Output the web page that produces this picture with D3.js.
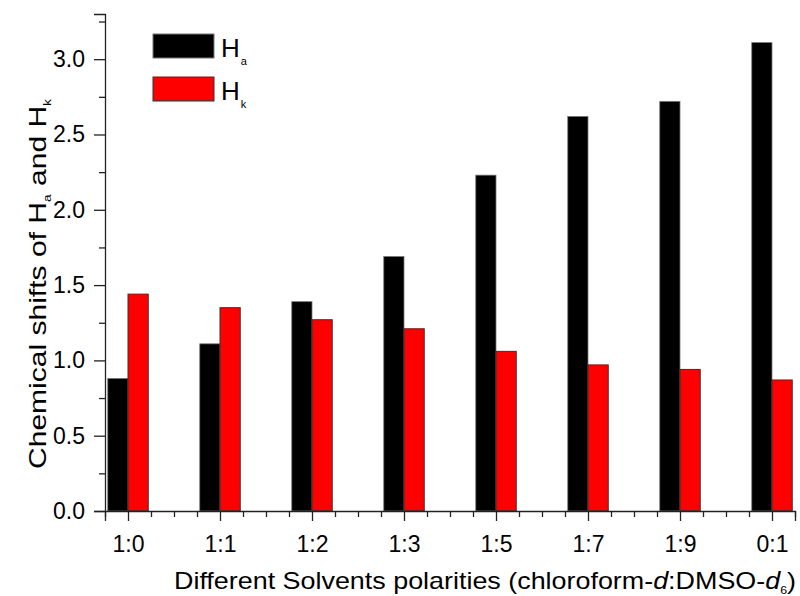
<!DOCTYPE html>
<html>
<head>
<meta charset="utf-8">
<script src="https://cdn.jsdelivr.net/npm/d3@7"></script>
<style>
  html, body { margin: 0; padding: 0; background: #fff; }
  svg { display: block; font-family: "Liberation Sans", Arial, sans-serif; }
</style>
</head>
<body>
<svg id="chart" width="800" height="596"></svg>
<script>
// Solvent ratios (chloroform-d : DMSO-d6)
const categories = ["1:0", "1:1", "1:2", "1:3", "1:5", "1:7", "1:9", "0:1"];
// Chemical shift of H_a and H_k for each ratio
const shiftHa = [0.88, 1.11, 1.39, 1.69, 2.23, 2.62, 2.72, 3.11];
const shiftHk = [1.44, 1.35, 1.27, 1.21, 1.06, 0.97, 0.94, 0.87];
const yTicks = [0, 0.5, 1.0, 1.5, 2.0, 2.5, 3.0];
const yMinorTicks = [0.25, 0.75, 1.25, 1.75, 2.25, 2.75, 3.25];

const svg = d3.select("#chart");
const plotLeft = 105, plotRight = 795, plotTop = 14, plotBottom = 511;

const x = d3.scaleLinear().domain([0.75, categories.length + 0.25]).range([plotLeft, plotRight]);
const y = d3.scaleLinear().domain([0, 3.3]).range([plotBottom, plotTop]);
const barW = 0.22;

const idx = categories.map((c, i) => i + 1);
const xMinor = [];
for (let v = 0.75; v <= categories.length + 0.25 + 1e-9; v += 0.25) {
  if (Math.abs(v - Math.round(v)) > 1e-9) xMinor.push(v);
}

// Bars
const g = svg.append("g");
g.selectAll("rect.ha").data(shiftHa).join("rect")
  .attr("class", "ha")
  .attr("x", (d, i) => x(i + 1 - barW))
  .attr("width", (d, i) => x(i + 1) - x(i + 1 - barW))
  .attr("y", d => y(d))
  .attr("height", d => y(0) - y(d))
  .attr("fill", "#000")
  .attr("stroke", "#777")
  .attr("stroke-width", 0.8);

g.selectAll("rect.hk").data(shiftHk).join("rect")
  .attr("class", "hk")
  .attr("x", (d, i) => x(i + 1))
  .attr("width", (d, i) => x(i + 1 + barW) - x(i + 1))
  .attr("y", d => y(d))
  .attr("height", d => y(0) - y(d))
  .attr("fill", "#ff0000")
  .attr("stroke", "#333")
  .attr("stroke-width", 1);

// Axes
function styleAxis(sel) {
  sel.select(".domain").attr("stroke", "#222").attr("stroke-width", 1.3);
  sel.selectAll(".tick line").attr("stroke", "#222").attr("stroke-width", 1.3);
  sel.selectAll(".tick text").attr("fill", "#000").style("font-size", "23px");
}

const yAxis = svg.append("g").attr("transform", `translate(${plotLeft},0)`)
  .call(d3.axisLeft(y).tickValues(yTicks).tickFormat(d3.format(".1f")).tickSizeOuter(0).tickSize(11).tickPadding(9));
styleAxis(yAxis);
const yAxisMinor = svg.append("g").attr("transform", `translate(${plotLeft},0)`)
  .call(d3.axisLeft(y).tickValues(yMinorTicks).tickFormat("").tickSizeOuter(0).tickSize(6));
styleAxis(yAxisMinor);
yAxisMinor.select(".domain").remove();

const xAxis = svg.append("g").attr("transform", `translate(0,${plotBottom})`)
  .call(d3.axisBottom(x).tickValues(idx).tickFormat((d, i) => categories[i]).tickSizeOuter(0).tickSize(10).tickPadding(15));
styleAxis(xAxis);
const xAxisMinor = svg.append("g").attr("transform", `translate(0,${plotBottom})`)
  .call(d3.axisBottom(x).tickValues(xMinor).tickFormat("").tickSizeOuter(0).tickSize(6));
styleAxis(xAxisMinor);
xAxisMinor.select(".domain").remove();

// Axis titles
const xt = svg.append("text")
  .attr("x", 485).attr("y", 589)
  .attr("text-anchor", "middle")
  .attr("textLength", 622).attr("lengthAdjust", "spacingAndGlyphs")
  .style("font-size", "24px").attr("fill", "#000");
xt.append("tspan").text("Different Solvents polarities (chloroform-");
xt.append("tspan").style("font-style", "italic").text("d");
xt.append("tspan").text(":DMSO-");
xt.append("tspan").style("font-style", "italic").text("d");
xt.append("tspan").attr("dy", 5).style("font-size", "11px").text("6");
xt.append("tspan").attr("dy", -5).text(")");

const yt = svg.append("text")
  .attr("transform", `translate(46,${284}) rotate(-90)`)
  .attr("text-anchor", "middle")
  .attr("textLength", 370).attr("lengthAdjust", "spacingAndGlyphs")
  .style("font-size", "24px").attr("fill", "#000");
yt.append("tspan").text("Chemical shifts of H");
yt.append("tspan").attr("dy", 5).style("font-size", "11px").text("a");
yt.append("tspan").attr("dy", -5).text(" and H");
yt.append("tspan").attr("dy", 5).style("font-size", "11px").text("k");

// Legend
const legend = [
  { label: "H", sub: "a", color: "#000", stroke: "#777" },
  { label: "H", sub: "k", color: "#ff0000", stroke: "#333" }
];
const lg = svg.append("g");
legend.forEach((d, i) => {
  const yy = 34 + i * 43;
  lg.append("rect").attr("x", 153).attr("y", yy).attr("width", 61).attr("height", 24)
    .attr("fill", d.color).attr("stroke", d.stroke).attr("stroke-width", 1);
  const t = lg.append("text").attr("x", 221).attr("y", yy + 23)
    .style("font-size", "26px").attr("fill", "#000");
  t.append("tspan").text(d.label);
  t.append("tspan").attr("dy", 8).attr("dx", 1).style("font-size", "11px").text(d.sub);
});
</script>
</body>
</html>
